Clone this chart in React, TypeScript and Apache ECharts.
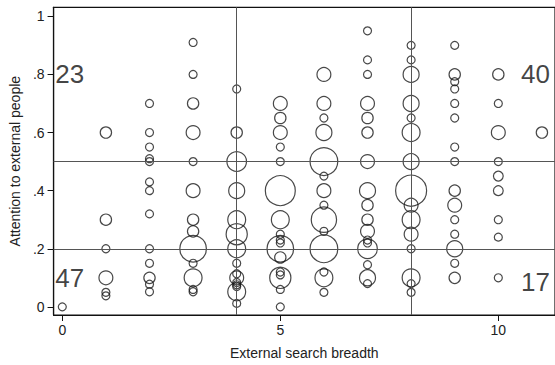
import React, { useEffect, useRef } from "react";
import * as echarts from "echarts";

// Each column: external search breadth value, then [attention, weight] pairs
const breadthValues = [0, 1, 2, 3, 4, 5, 6, 7, 8, 9, 10, 11];
const col0 = [[0, 1]];
const col1 = [[0.6, 2], [0.3, 2], [0.2, 1], [0.1, 3], [0.05, 1], [0.038, 1]];
const col2 = [[0.7, 1], [0.6, 1], [0.55, 1], [0.51, 1], [0.5, 1], [0.43, 1], [0.4, 1], [0.32, 1], [0.2, 1], [0.15, 1], [0.1, 2], [0.078, 1], [0.052, 1]];
const col3 = [[0.91, 1], [0.8, 1], [0.7, 2], [0.6, 3], [0.5, 1], [0.4, 3], [0.3, 2], [0.26, 2], [0.2, 11], [0.15, 1], [0.1, 5], [0.06, 1], [0.052, 1]];
const col4 = [[0.75, 1], [0.6, 2], [0.5, 6], [0.4, 4], [0.3, 5], [0.25, 7], [0.2, 5], [0.15, 1], [0.114, 1], [0.1, 3], [0.084, 1], [0.076, 1], [0.07, 1], [0.052, 5], [0.012, 1]];
const col5 = [[0.7, 3], [0.65, 2], [0.6, 3], [0.55, 1], [0.5, 1], [0.4, 14], [0.3, 5], [0.25, 1], [0.23, 1], [0.22, 1], [0.2, 11], [0.17, 2], [0.12, 1], [0.11, 1], [0.1, 7], [0.06, 1], [0, 1]];
const col6 = [[0.8, 3], [0.7, 3], [0.65, 1], [0.6, 4], [0.5, 12], [0.45, 1], [0.4, 3], [0.35, 1], [0.3, 10], [0.26, 1], [0.2, 12], [0.12, 1], [0.1, 5], [0.05, 1]];
const col7 = [[0.95, 1], [0.85, 1], [0.8, 1], [0.7, 3], [0.65, 2], [0.6, 2], [0.5, 3], [0.4, 4], [0.35, 2], [0.3, 2], [0.26, 3], [0.23, 1], [0.22, 1], [0.2, 6], [0.145, 1], [0.1, 4], [0.08, 1]];
const col8 = [[0.9, 1], [0.85, 1], [0.8, 4], [0.7, 4], [0.65, 1], [0.6, 5], [0.5, 4], [0.4, 15], [0.35, 3], [0.3, 5], [0.25, 3], [0.2, 1], [0.1, 5], [0.08, 1], [0.05, 1]];
const col9 = [[0.9, 1], [0.8, 2], [0.775, 1], [0.75, 1], [0.7, 1], [0.65, 1], [0.55, 1], [0.5, 1], [0.4, 2], [0.35, 3], [0.3, 1], [0.25, 1], [0.2, 4], [0.15, 1], [0.1, 2]];
const col10 = [[0.8, 2], [0.7, 1], [0.6, 3], [0.5, 1], [0.45, 1.5], [0.4, 1.5], [0.3, 1], [0.24, 1], [0.1, 1]];
const col11 = [[0.6, 2]];
const columns = [col0, col1, col2, col3, col4, col5, col6, col7, col8, col9, col10, col11];

const xTickValues = [0, 5, 10];
const yTickValues = [0, 0.2, 0.4, 0.6, 0.8, 1];
const yTickLabels = ["0", ".2", ".4", ".6", ".8", "1"];
const xCuts = [4, 8];
const yCuts = [0.5, 0.2];

const quadrantLabels = ["23", "40", "47", "17"];
const quadrantX = [0.17, 10.85, 0.17, 10.85];
const quadrantY = [0.8, 0.8, 0.098, 0.086];

const FONT = "'Liberation Sans', Arial, Helvetica, sans-serif";

export default function App() {
  const ref = useRef<HTMLDivElement>(null);
  useEffect(() => {
    if (!ref.current) return;
    const chart = echarts.init(ref.current, null, { renderer: "svg" });
    const bubbles: number[][] = [];
    columns.forEach((col, i) => {
      col.forEach(([y, w]) => bubbles.push([breadthValues[i], y, w]));
    });
    const labelData = quadrantLabels.map((t, i) => ({
      value: [quadrantX[i], quadrantY[i]],
      label: { formatter: t },
    }));
    chart.setOption({
      animation: false,
      textStyle: { fontFamily: FONT },
      grid: {
        left: 52,
        top: 7.3,
        right: -5.6,
        bottom: 44,
        show: true,
        borderColor: "#111",
        borderWidth: 1.2,
        backgroundColor: "transparent",
      },
      xAxis: {
        type: "value",
        min: -0.2,
        max: 11.3,
        name: "External search breadth",
        nameLocation: "middle",
        nameGap: 31,
        nameTextStyle: { fontSize: 14, color: "#222", fontFamily: FONT },
        axisLine: { show: true, onZero: false, lineStyle: { color: "#111", width: 1.2 } },
        axisTick: { show: true, length: 6, customValues: xTickValues, lineStyle: { color: "#111" } },
        axisLabel: {
          customValues: xTickValues,
          margin: 8,
          fontSize: 14,
          color: "#222",
          fontFamily: FONT,
        },
        splitLine: { show: false },
      },
      yAxis: {
        type: "value",
        min: -0.028,
        max: 1.031,
        name: "Attention to external people",
        nameLocation: "middle",
        nameGap: 27,
        nameTextStyle: { fontSize: 14, color: "#222", fontFamily: FONT },
        axisLine: { show: true, onZero: false, lineStyle: { color: "#111", width: 1.2 } },
        axisTick: { show: true, length: 6, customValues: yTickValues, lineStyle: { color: "#111" } },
        axisLabel: {
          customValues: yTickValues,
          margin: 9,
          fontSize: 14,
          color: "#222",
          fontFamily: FONT,
          formatter: (v: number) => {
            const idx = yTickValues.findIndex((t) => Math.abs(t - v) < 1e-6);
            return idx >= 0 ? yTickLabels[idx] : "";
          },
        },
        splitLine: { show: false },
      },
      series: [
        {
          type: "scatter",
          data: [],
          silent: true,
          markLine: {
            silent: true,
            symbol: ["none", "none"],
            label: { show: false },
            lineStyle: { color: "#555", width: 1, type: "solid" },
            data: [
              ...xCuts.map((v) => ({ xAxis: v })),
              ...yCuts.map((v) => ({ yAxis: v })),
            ],
          },
        },
        {
          type: "scatter",
          data: bubbles,
          symbol: "circle",
          symbolSize: (v: number[]) => 8 * Math.sqrt(v[2]),
          itemStyle: { color: "rgba(0,0,0,0)", borderColor: "#1a1a1a", borderWidth: 1.2 },
        },
        {
          type: "scatter",
          data: labelData,
          symbolSize: 0,
          silent: true,
          label: {
            show: true,
            position: "inside",
            fontSize: 26,
            color: "#111",
            fontFamily: FONT,
          },
        },
      ],
    });
    return () => chart.dispose();
  }, []);
  return (
    <div
      ref={ref}
      style={{ position: "absolute", left: 0, top: 0, width: 555, height: 365, background: "#fff" }}
    />
  );
}
